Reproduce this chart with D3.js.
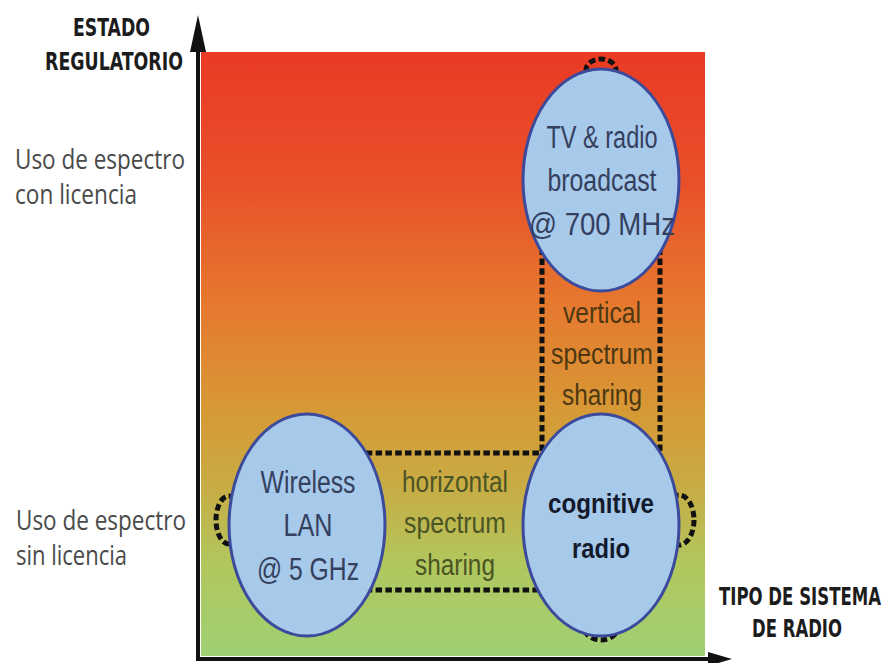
<!DOCTYPE html>
<html>
<head>
<meta charset="utf-8">
<script src="https://cdn.jsdelivr.net/npm/d3@7"></script>
<style>
  body { margin: 0; background: #fff; }
  svg { display: block; }
</style>
</head>
<body>
<div id="plot"></div>
<script>
// regulatory states (y) and system columns (x)
const regimes = ["con licencia", "sin licencia"];
const regimeLabels = [["Uso de espectro", "con licencia"], ["Uso de espectro", "sin licencia"]];
const columns = ["convencional", "cognitivo"];

// the three radio systems
const nodeNames = ["TV & radio broadcast", "Wireless LAN", "cognitive radio"];
const nodeLines = [["TV & radio", "broadcast", "@ 700 MHz"], ["Wireless", "LAN", "@ 5 GHz"], ["cognitive", "radio"]];
const nodeRegime = ["con licencia", "sin licencia", "sin licencia"];
const nodeColumn = ["cognitivo", "convencional", "cognitivo"];

// sharing links between systems
const linkFrom = ["TV & radio broadcast", "Wireless LAN"];
const linkTo = ["cognitive radio", "cognitive radio"];
const linkLines = [["vertical", "spectrum", "sharing"], ["horizontal", "spectrum", "sharing"]];

// self loops (node, side)
const loopNode = ["TV & radio broadcast", "Wireless LAN", "cognitive radio", "cognitive radio"];
const loopSide = ["top", "left", "right", "bottom"];

window.addEventListener("load", main);

function main(){
  let [W, H] = [895, 663];
  let svg = d3.select('#plot').append('svg').attr('width', W).attr('height', H);

  let xsc = d3.scalePoint().domain(columns).range([307, 601]);
  let ysc = d3.scalePoint().domain(regimes).range([180, 525]);
  let labelSc = d3.scalePoint().domain(regimes).range([185.5, 546.5]);

  let [rx, ry] = [78, 111];
  let nodes = nodeNames.map((n, i) => ({name: n, lines: nodeLines[i], x: xsc(nodeColumn[i]), y: ysc(nodeRegime[i])}));
  let byName = Object.fromEntries(nodes.map(d => [d.name, d]));

  // background gradient
  let defs = svg.append('defs');
  let grad = defs.append('linearGradient').attr('id', 'bg').attr('x1', 0).attr('y1', 0).attr('x2', 0).attr('y2', 1);
  [[0, '#ea3a24'], [0.22, '#e8512a'], [0.42, '#e6792e'], [0.6, '#d69a36'], [0.72, '#c8ac44'], [0.85, '#b1c75e'], [1, '#9fd073']]
    .forEach(s => grad.append('stop').attr('offset', s[0]).attr('stop-color', s[1]));

  svg.append('rect').attr('x', 201).attr('y', 52).attr('width', 504).attr('height', 604).attr('fill', 'url(#bg)');

  let dash = {stroke: '#111', 'stroke-width': 5, 'stroke-dasharray': '6.5,3.3', fill: 'none'};
  let links = linkFrom.map((f, i) => ({a: byName[f], b: byName[linkTo[i]], lines: linkLines[i]}));

  // dashed connectors (drawn under the ellipses)
  let conn = svg.append('g');
  links.forEach(l => {
    let vertical = l.a.x === l.b.x;
    let pairs = vertical
      ? [[l.a.x - 59, l.a.y, l.a.x - 59, l.b.y], [l.a.x + 59, l.a.y, l.a.x + 59, l.b.y]]
      : [[l.a.x, l.a.y - 72, l.b.x, l.b.y - 72], [l.a.x, l.a.y + 65, l.b.x, l.b.y + 65]];
    pairs.forEach(p => {
      let ln = conn.append('line').attr('x1', p[0]).attr('y1', p[1]).attr('x2', p[2]).attr('y2', p[3]);
      Object.entries(dash).forEach(([k, v]) => ln.attr(k, v));
    });
  });

  // self loops
  let loopGeom = {
    top: (d) => [d.x, d.y - ry + 1, 15, 11],
    bottom: (d) => [d.x, d.y - 11 + ry, 18, 15],
    left: (d) => [d.x - rx, d.y - 5, 13, 24],
    right: (d) => [d.x + rx, d.y - 5, 15, 25]
  };
  loopNode.forEach((n, i) => {
    let g = loopGeom[loopSide[i]](byName[n]);
    let e = conn.append('ellipse').attr('cx', g[0]).attr('cy', g[1]).attr('rx', g[2]).attr('ry', g[3]);
    Object.entries(dash).forEach(([k, v]) => e.attr(k, v));
  });

  // ellipses
  svg.append('g').selectAll('ellipse')
    .data(nodes)
    .join('ellipse')
      .attr('cx', d => d.x)
      .attr('cy', d => d.y)
      .attr('rx', rx)
      .attr('ry', ry)
      .attr('fill', '#a7c9ea')
      .attr('stroke', '#3c4a9c')
      .attr('stroke-width', 3);

  let font = "'Liberation Sans Narrow', 'Liberation Sans', Arial, sans-serif";
  let widths = {
    "TV & radio": 111, "broadcast": 109, "@ 700 MHz": 146,
    "Wireless": 95, "LAN": 49, "@ 5 GHz": 102,
    "cognitive": 106, "radio": 58,
    "vertical": 78, "spectrum": 102, "sharing": 80,
    "horizontal": 106
  };

  function block(g, lines, cx, cy, step, opts){
    lines.forEach((t, i) => {
      g.append('text')
        .attr('x', cx)
        .attr('y', cy + (i - (lines.length - 1) / 2) * step + 11)
        .attr('text-anchor', 'middle')
        .attr('font-family', font)
        .attr('font-size', opts.size)
        .attr('font-weight', opts.weight || 'normal')
        .attr('fill', opts.color)
        .attr('textLength', widths[t])
        .attr('lengthAdjust', 'spacingAndGlyphs')
        .text(t);
    });
  }

  let txt = svg.append('g');
  nodes.forEach(d => {
    let bold = d.name === "cognitive radio";
    block(txt, d.lines, d.x + (bold ? 0 : 1), d.y + (bold ? -1 : 0), bold ? 45 : 43.5,
      {size: bold ? 28 : 31, weight: bold ? 'bold' : 'normal', color: bold ? '#131a2c' : '#34405e'});
  });
  links.forEach(l => {
    let vertical = l.a.x === l.b.x;
    block(txt, l.lines, (l.a.x + l.b.x) / 2 + 1, (l.a.y + l.b.y) / 2 + (vertical ? 0 : -3), vertical ? 41 : 41.5,
      {size: 30, color: vertical ? '#4d3813' : '#4a5424'});
  });

  // axes with arrowheads
  let axisCol = '#111';
  let yTop = 15, xRight = 732, origin = [198, 659];
  svg.append('line').attr('x1', origin[0]).attr('y1', origin[1] + 2).attr('x2', origin[0]).attr('y2', 45)
    .attr('stroke', axisCol).attr('stroke-width', 4);
  svg.append('path').attr('d', `M${origin[0]},${yTop} L${origin[0] - 8},${52} L${origin[0] + 8},${52} Z`).attr('fill', axisCol);
  svg.append('line').attr('x1', origin[0] - 2).attr('y1', origin[1]).attr('x2', 712).attr('y2', origin[1])
    .attr('stroke', axisCol).attr('stroke-width', 4);
  svg.append('path').attr('d', `M${xRight},${origin[1]} L${708},${origin[1] - 7} L${708},${origin[1] + 7} Z`).attr('fill', axisCol);

  // y category labels via axis
  let yAx = svg.append('g')
    .call(d3.axisLeft(labelSc).tickSize(0).tickFormat(''));
  yAx.select('.domain').remove();
  let lw = {"Uso de espectro": 170, "con licencia": 122, "sin licencia": 111};
  yAx.selectAll('.tick').each(function(r, i){
    let tk = d3.select(this);
    regimeLabels[i].forEach((t, j) => {
      tk.append('text')
        .attr('x', 15 + (i ? 1 : 0))
        .attr('y', (j - 0.5) * 35)
        .attr('text-anchor', 'start')
        .attr('fill', '#4a4a4a')
        .attr('font-family', "'Open Sans', 'Liberation Sans', sans-serif")
        .attr('font-size', 27)
        .attr('textLength', lw[t])
        .attr('lengthAdjust', 'spacingAndGlyphs')
        .text(t);
    });
  });

  // axis titles (small font stretched vertically, so natural width stays inside)
  let cond = "'DejaVu Sans Condensed', 'Liberation Sans Narrow', sans-serif";
  [["ESTADO", 111.5, 36, 77], ["REGULATORIO", 114, 70, 138], ["TIPO DE SISTEMA", 800, 605, 162], ["DE RADIO", 797, 637, 90]]
    .forEach(t => {
      svg.append('text')
        .attr('transform', `translate(${t[1]},${t[2]}) scale(1,1.3)`)
        .attr('text-anchor', 'middle')
        .attr('font-family', cond)
        .attr('font-weight', 'bold')
        .attr('font-size', 19)
        .attr('fill', '#1c1c1c')
        .attr('textLength', t[3])
        .attr('lengthAdjust', 'spacingAndGlyphs')
        .text(t[0]);
    });
}
</script>
</body>
</html>
